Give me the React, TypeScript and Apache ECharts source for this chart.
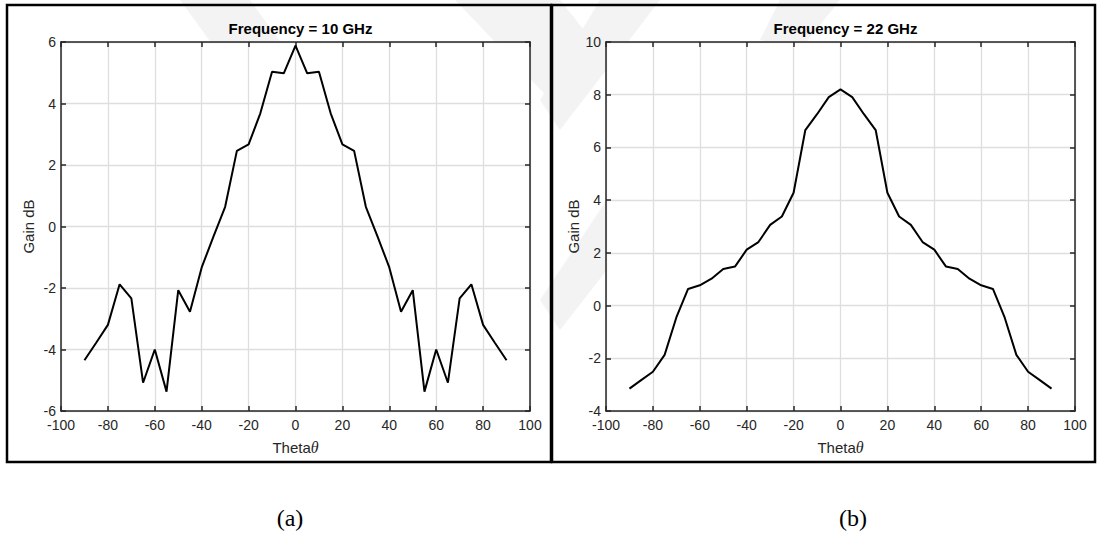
import React, { useEffect, useRef } from "react";
import * as echarts from "echarts";

// Scan angles (degrees)
const theta = [
  -90, -85, -80, -75, -70, -65, -60, -55, -50, -45, -40, -35, -30, -25, -20, -15, -10, -5,
  0, 5, 10, 15, 20, 25, 30, 35, 40, 45, 50, 55, 60, 65, 70, 75, 80, 85, 90,
];

// Gain (dB) at 10 GHz
const gain10 = [
  -4.35, -3.78, -3.2, -1.88, -2.34, -5.08, -4.0, -5.37, -2.07, -2.77, -1.33, -0.33, 0.64, 2.46,
  2.67, 3.68, 5.03, 4.98, 5.88, 4.98, 5.03, 3.68, 2.67, 2.46, 0.64, -0.33, -1.33, -2.77, -2.07,
  -5.37, -4.0, -5.08, -2.34, -1.88, -3.2, -3.78, -4.35,
];

// Gain (dB) at 22 GHz
const gain22 = [
  -3.15, -2.83, -2.51, -1.87, -0.45, 0.63, 0.77, 1.02, 1.39, 1.48, 2.12, 2.41, 3.06, 3.38, 4.28,
  6.66, 7.26, 7.91, 8.2, 7.91, 7.26, 6.66, 4.28, 3.38, 3.06, 2.41, 2.12, 1.48, 1.39, 1.02, 0.77,
  0.63, -0.45, -1.87, -2.51, -2.83, -3.15,
];

const titles = ["Frequency = 10 GHz", "Frequency = 22 GHz"];
const captions = ["(a)", "(b)"];
const xRange = { min: -100, max: 100, interval: 20 };
const yRanges = [
  { min: -6, max: 6, interval: 2 },
  { min: -4, max: 10, interval: 2 },
];

const SANS = "Arial, 'Liberation Sans', Helvetica, sans-serif";
const SERIF = "'Times New Roman', 'Liberation Serif', serif";
const AXIS_COLOR = "#262626";
const GRID_COLOR = "#dedede";

const gridLefts = [61, 606];
const GRID_TOP = 42;
const GRID_W = 469;
const GRID_H = 369;

export default function App() {
  const ref = useRef<HTMLDivElement>(null);

  useEffect(() => {
    if (!ref.current) return;
    const chart = echarts.init(ref.current, null, { renderer: "svg" });

    const axisLine = { show: true, onZero: false, lineStyle: { color: AXIS_COLOR, width: 1.5 } };
    const tick = { show: true, inside: true, length: 5, lineStyle: { color: AXIS_COLOR, width: 1.5 } };
    const tickLabel = { fontSize: 14, color: AXIS_COLOR, fontFamily: SANS };
    const split = { show: true, lineStyle: { color: GRID_COLOR, width: 1.3 } };

    const grids = gridLefts.map((left) => ({
      left,
      top: GRID_TOP,
      width: GRID_W,
      height: GRID_H,
      show: true,
      backgroundColor: "#ffffff",
      borderWidth: 0,
      containLabel: false,
    }));

    const xAxes: any[] = [];
    const yAxes: any[] = [];
    gridLefts.forEach((_, g) => {
      xAxes.push({
        type: "value",
        gridIndex: g,
        position: "bottom",
        ...xRange,
        axisLine,
        axisTick: tick,
        axisLabel: { ...tickLabel, margin: 7 },
        splitLine: split,
        name: "Theta{i|θ}",
        nameLocation: "middle",
        nameGap: 28,
        nameTextStyle: {
          fontSize: 15,
          color: AXIS_COLOR,
          fontFamily: SANS,
          rich: {
            i: { fontStyle: "italic", fontFamily: SERIF, fontSize: 16, color: AXIS_COLOR },
          },
        },
      });
      xAxes.push({
        type: "value",
        gridIndex: g,
        position: "top",
        ...xRange,
        axisLine,
        axisTick: tick,
        axisLabel: { show: false },
        splitLine: { show: false },
      });
      yAxes.push({
        type: "value",
        gridIndex: g,
        position: "left",
        ...yRanges[g],
        axisLine,
        axisTick: tick,
        axisLabel: { ...tickLabel, margin: 5 },
        splitLine: split,
        name: "Gain dB",
        nameLocation: "middle",
        nameGap: 25,
        nameTextStyle: { fontSize: 15, color: AXIS_COLOR, fontFamily: SANS },
      });
      yAxes.push({
        type: "value",
        gridIndex: g,
        position: "right",
        ...yRanges[g],
        axisLine,
        axisTick: tick,
        axisLabel: { show: false },
        splitLine: { show: false },
      });
    });

    const lineSeries = (data: number[], g: number) => ({
      type: "line",
      xAxisIndex: g * 2,
      yAxisIndex: g * 2,
      data: theta.map((t, i) => [t, data[i]]),
      symbol: "none",
      lineStyle: { color: "#000000", width: 2 },
      z: 5,
    });

    // faint background bands behind the panels
    const bandFill = "#f3f3f3";
    const bands = [
      [[180, 0], [250, 0], [330, 110], [260, 110]],
      [[455, 0], [560, 0], [600, 50], [560, 110]],
      [[600, 0], [660, 0], [560, 130], [540, 100]],
      [[640, 150], [700, 150], [560, 330], [540, 300]],
      [[780, 0], [840, 0], [800, 50], [760, 40]],
    ];

    const graphics: any[] = [
      ...bands.map((pts) => ({
        type: "polygon",
        z: -5,
        silent: true,
        shape: { points: pts },
        style: { fill: bandFill },
      })),
      ...titles.map((text, g) => ({
        type: "text",
        x: gridLefts[g] + GRID_W / 2 + 5,
        y: 28,
        z: 10,
        style: {
          text,
          textAlign: "center",
          textVerticalAlign: "middle",
          font: `bold 15px ${SANS}`,
          fill: "#000000",
        },
      })),
      {
        type: "rect",
        z: 10,
        shape: { x: 7, y: 5, width: 544, height: 457 },
        style: { fill: "none", stroke: "#000000", lineWidth: 2.5 },
      },
      {
        type: "rect",
        z: 10,
        shape: { x: 552, y: 5, width: 543, height: 457 },
        style: { fill: "none", stroke: "#000000", lineWidth: 2.5 },
      },
      ...captions.map((text, g) => ({
        type: "text",
        x: [290, 853][g],
        y: 518,
        z: 10,
        style: {
          text,
          textAlign: "center",
          textVerticalAlign: "middle",
          font: `24px ${SERIF}`,
          fill: "#000000",
        },
      })),
    ];

    chart.setOption({
      animation: false,
      backgroundColor: "#ffffff",
      grid: grids,
      xAxis: xAxes,
      yAxis: yAxes,
      series: [lineSeries(gain10, 0), lineSeries(gain22, 1)],
      graphic: { elements: graphics },
    });

    return () => chart.dispose();
  }, []);

  return (
    <div
      ref={ref}
      style={{ position: "absolute", left: 0, top: 0, width: 1098, height: 535 }}
    />
  );
}
